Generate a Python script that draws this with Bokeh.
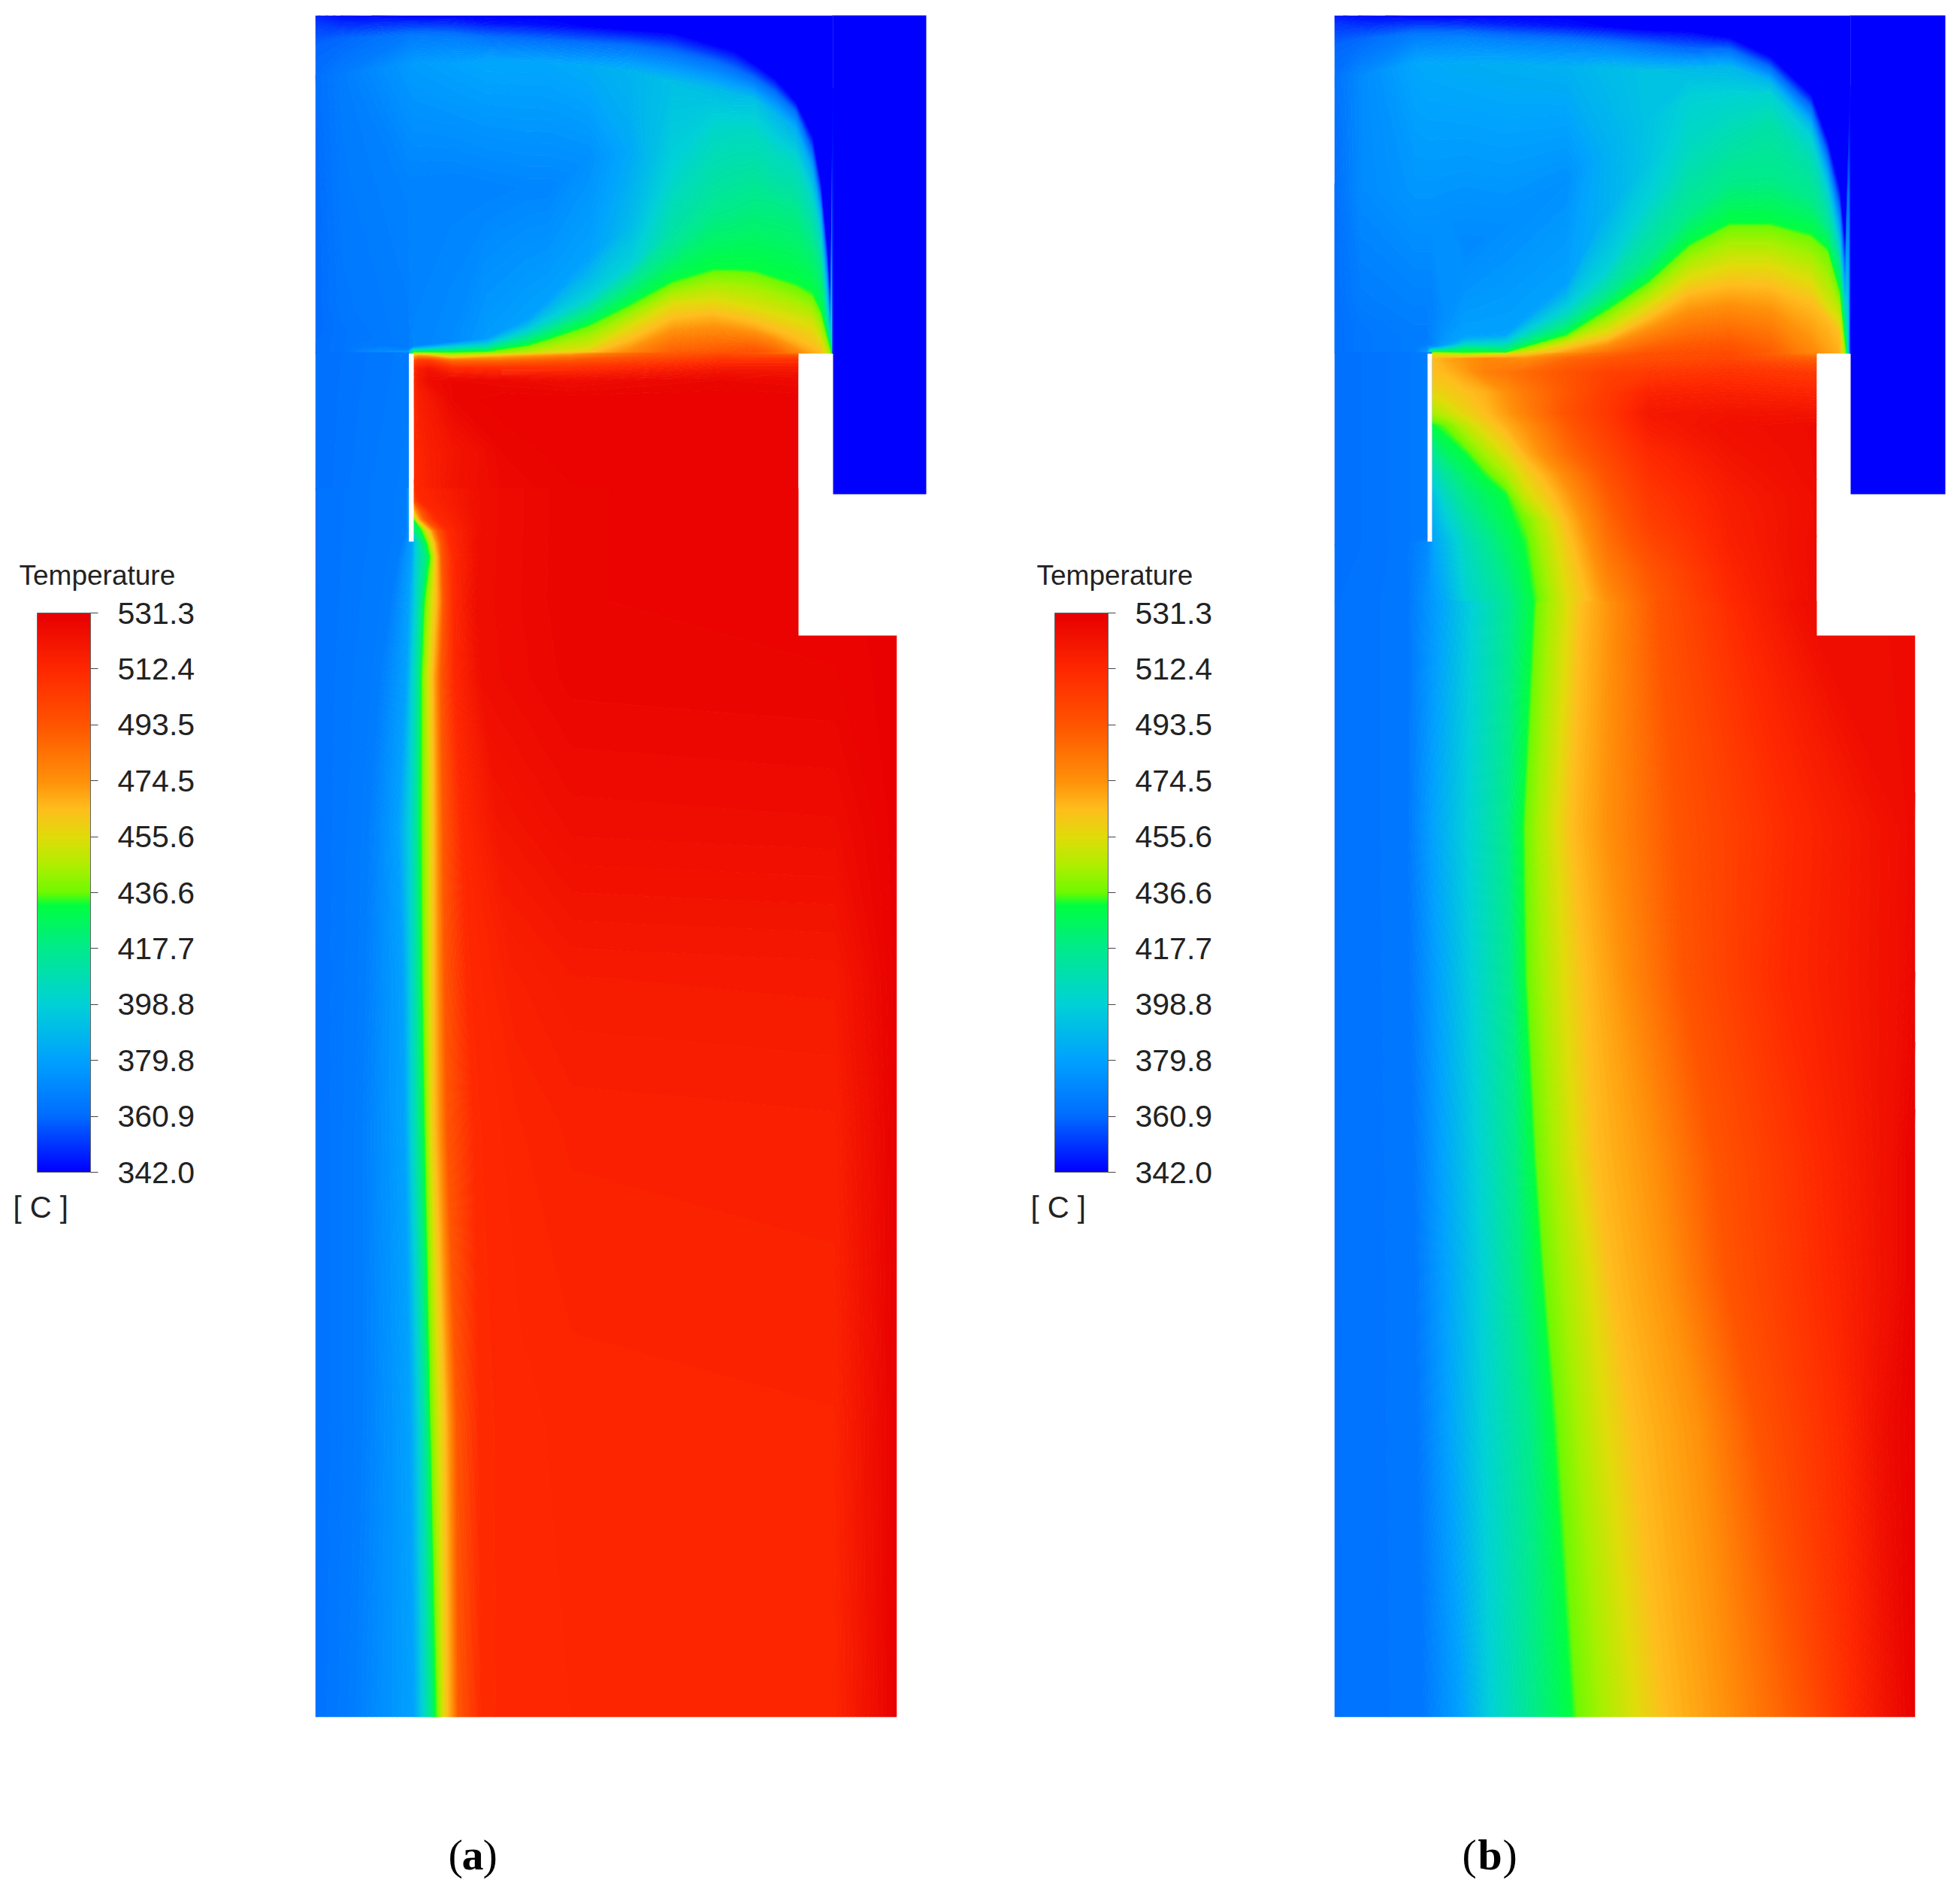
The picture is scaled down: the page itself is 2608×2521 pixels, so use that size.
from bokeh.core.properties import value
from bokeh.embed import file_html
from bokeh.models import ColorBar, FixedTicker, LinearColorMapper, PrintfTickFormatter, Range1d
from bokeh.plotting import figure
from bokeh.resources import INLINE
import numpy as np

# colour scale
tick_values = [342.0, 360.9, 379.8, 398.8, 417.7, 436.6, 455.6, 474.5, 493.5, 512.4, 531.3]
scale_t = [342, 360.9, 379.8, 398.8, 417.7, 432.3, 436.6, 445, 455.6, 465, 474.5, 493.5, 512.4, 531.3]
scale_r = [0, 0, 0, 0, 0, 0, 110, 170, 225, 255, 255, 255, 255, 232]
scale_g = [0, 108, 162, 210, 235, 255, 250, 240, 220, 190, 145, 85, 40, 0]
scale_b = [255, 255, 255, 215, 140, 64, 0, 0, 10, 30, 10, 0, 0, 0]

# upper chamber, one column per x, temperature (C) at the y of each node
a_top_x = [419, 455, 543, 550, 600, 647, 700, 729, 784, 839, 894, 949, 976, 1003, 1031, 1058, 1080, 1091, 1099, 1105, 1108]
a_top_y = [
    [20, 30, 60, 100, 250, 400, 440, 455, 462, 466, 468, 469, 470],
    [20, 32, 50, 100, 250, 400, 440, 455, 462, 466, 468, 469, 470],
    [20, 30, 48, 85, 250, 460, 463, 465, 467, 468, 469, 469.5, 470],
    [20, 30, 48, 85, 250, 460, 463, 465, 467, 468, 469, 469.5, 470],
    [20, 30, 50, 85, 240, 455, 461, 465, 467, 468, 469, 469.5, 470],
    [20, 30, 52, 82, 250, 450, 458, 463, 467, 468.5, 469, 469.5, 470],
    [20, 32, 55, 82, 250, 425, 440, 450, 459, 461, 465, 468, 470],
    [20, 33, 57, 83, 250, 400, 425, 439, 450, 453, 465, 468, 470],
    [20, 36, 60, 88, 210, 340, 395, 414, 431, 435, 463, 468, 470],
    [20, 40, 63, 95, 200, 300, 351, 378, 403, 408, 433, 455, 470],
    [20, 44, 72, 110, 220, 280, 310, 335, 373, 378, 403, 428, 470],
    [20, 60, 85, 118, 170, 230, 260, 285, 357, 362, 398, 422, 470],
    [20, 68, 95, 125, 170, 225, 255, 275, 357, 362, 403, 427, 470],
    [20, 85, 107, 132, 175, 225, 250, 263, 359, 364, 409, 433, 470],
    [20, 105, 125, 150, 200, 240, 258, 268, 368, 373, 417, 443, 470],
    [20, 135, 150, 170, 215, 250, 268, 278, 376, 382, 425, 455, 470],
    [20, 180, 205, 225, 265, 295, 310, 320, 387, 395, 432, 460, 470],
    [20, 240, 265, 285, 310, 330, 340, 350, 411, 416, 445, 462, 470],
    [20, 320, 350, 375, 400, 415, 425, 432, 444, 448, 458, 465, 470],
    [20, 400, 440, 455, 460, 462, 464, 465, 466, 467, 468, 469, 470],
    [20, 60, 100, 140, 180, 220, 260, 300, 340, 380, 420, 460, 470],
]
a_top_t = [
    [348, 352, 360, 362, 361, 361, 361, 362, 362, 362, 362, 362, 362],
    [344, 350, 360, 367, 366, 365, 364, 364, 364, 364, 364, 364, 364],
    [342, 350, 366, 377, 369, 367, 367, 370, 375, 380, 385, 390, 395],
    [342, 350, 367, 378, 369, 370, 385, 405, 425, 432, 437, 440, 445],
    [342, 349, 368, 380, 369, 372, 398, 415, 428, 432, 435, 436, 437],
    [342, 345, 365, 382, 369, 378, 399, 418, 432.5, 437, 439, 441, 442],
    [342, 345, 365, 382, 370, 380, 399, 418, 432.5, 437, 443, 447, 452],
    [342, 344, 365, 382, 370, 380, 399, 418, 432.5, 437, 450, 454, 458],
    [342, 343, 365, 384, 374, 380, 399, 418, 432.5, 437, 455, 463, 466],
    [342, 342.5, 365, 387, 383, 390, 399, 418, 432.5, 437, 455, 468, 480],
    [342, 342.5, 365, 392, 399, 408, 412, 418, 432.5, 437, 455, 468, 492],
    [342, 342.5, 365, 390, 402, 410, 414, 418, 432.5, 437, 455, 468, 494],
    [342, 342.5, 365, 390, 403, 411, 415, 418, 432.5, 437, 455, 468, 496],
    [342, 342.5, 365, 392, 404, 412, 416, 418, 432.5, 437, 455, 468, 498],
    [342, 342.5, 365, 388, 404, 411, 415, 418, 432.5, 437, 455, 468, 492],
    [342, 342.5, 365, 385, 404, 411, 415, 418, 432.5, 437, 455, 468, 480],
    [342, 342.5, 365, 385, 404, 411, 415, 418, 432.5, 437, 455, 465, 470],
    [342, 342.5, 365, 385, 400, 409, 413, 418, 432.5, 437, 452, 462, 466],
    [342, 342.5, 365, 385, 400, 409, 413, 418, 432.5, 437, 445, 450, 453],
    [342, 342.5, 365, 385, 395, 403, 410, 418, 430, 433, 435, 437, 438],
    [342, 342, 342, 342, 342, 342, 342, 342, 342, 342, 342, 342, 346],
]
b_top_x = [1775, 1811, 1883, 1899, 1905, 1949, 2003, 2084, 2139, 2193, 2247, 2301, 2355, 2409, 2431, 2447, 2455, 2462]
b_top_y = [
    [20, 30, 60, 100, 250, 400, 440, 455, 462, 466, 468, 469, 470],
    [20, 32, 50, 100, 250, 400, 440, 455, 462, 466, 468, 469, 470],
    [20, 30, 48, 85, 250, 400, 445, 458, 463, 466, 468, 469, 470],
    [20, 30, 48, 85, 250, 400, 445, 458, 463, 466, 468, 469, 470],
    [20, 30, 48, 85, 250, 400, 460, 463, 465, 467, 468, 469, 470],
    [20, 30, 50, 85, 330, 447, 457, 462, 466, 468, 469, 469.5, 470],
    [20, 32, 55, 85, 300, 444, 455, 463, 469, 469.3, 469.6, 469.8, 470],
    [20, 34, 58, 90, 240, 378, 411, 431, 444, 447, 456, 463, 470],
    [20, 36, 60, 90, 200, 280, 357, 392, 409, 414, 439, 450, 470],
    [20, 40, 60, 95, 160, 215, 263, 346, 373, 378, 406, 422, 470],
    [20, 42, 66, 92, 130, 200, 245, 285, 324, 329, 368, 389, 470],
    [20, 50, 68, 88, 128, 190, 220, 241, 296, 301, 351, 378, 470],
    [20, 75, 92, 108, 125, 160, 195, 236, 296, 301, 351, 380, 470],
    [20, 125, 145, 165, 181, 210, 240, 263, 310, 316, 373, 403, 470],
    [20, 185, 210, 235, 252, 275, 290, 302, 329, 335, 410, 422, 470],
    [20, 250, 280, 310, 329, 340, 345, 351, 384, 392, 425, 445, 470],
    [20, 330, 370, 400, 420, 430, 435, 440, 466, 467, 468, 469, 470],
    [20, 60, 100, 140, 180, 220, 260, 300, 340, 380, 420, 460, 470],
]
b_top_t = [
    [346, 351, 360, 363, 362, 362, 362, 362, 362, 362, 362, 362, 362],
    [344, 350, 360, 372, 372, 367, 365, 365, 365, 365, 365, 365, 365],
    [342, 350, 368, 382, 376, 369, 367, 367, 367, 367, 367, 367, 367],
    [342, 350, 368, 383, 376, 369, 367, 368, 372, 376, 380, 384, 388],
    [342, 350, 368, 383, 376, 369, 370, 385, 405, 425, 432, 440, 450],
    [342, 349, 370, 384, 371, 380, 399, 418, 430, 432.5, 434, 436, 437],
    [342, 348, 370, 385, 373, 380, 399, 418, 432.5, 437, 440, 445, 450],
    [342, 345, 370, 386, 374, 380, 399, 418, 432.5, 437, 455, 465, 474],
    [342, 343, 368, 390, 386, 386, 399, 418, 432.5, 437, 455, 465, 487],
    [342, 342.5, 362, 393, 393, 394, 399, 418, 432.5, 437, 455, 465, 495],
    [342, 342.5, 362, 390, 399, 405, 412, 418, 432.5, 437, 455, 465, 497],
    [342, 342.5, 365, 388, 400, 410, 415, 418, 432.5, 437, 455, 465, 498],
    [342, 342.5, 365, 388, 400, 410, 414, 418, 432.5, 437, 455, 465, 492],
    [342, 342.5, 365, 388, 399, 408, 414, 418, 432.5, 437, 455, 465, 478],
    [342, 342.5, 365, 388, 399, 408, 414, 418, 432.5, 437, 455, 465, 472],
    [342, 342.5, 365, 388, 399, 408, 414, 418, 432.5, 437, 455, 465, 468],
    [342, 342.5, 365, 388, 399, 408, 414, 418, 432.5, 434, 436, 438, 440],
    [342, 342, 342, 342, 342, 342, 342, 342, 342, 342, 342, 342, 346],
]

# just under the free surface, on plain x / y lines
a_cap_x = [550, 556, 570, 600, 667, 760, 860, 960, 1062]
a_cap_y = [469, 474, 480, 490, 505, 530, 600, 650]
a_cap_t = [
    [445, 445, 442, 437, 445, 465, 489, 495, 478],
    [470, 478, 475, 455, 470, 482, 495, 503, 498],
    [495, 505, 505, 488, 488, 495, 503, 510, 510],
    [510, 518, 522, 512, 510, 510, 515, 520, 520],
    [512, 520, 526, 528, 527, 525, 527, 528, 527],
    [512, 517, 520, 528, 530, 530, 530, 530, 530],
    [512, 514, 517, 521, 528, 530, 530, 530, 530],
    [511, 513, 516, 522, 527, 529, 530, 530, 530],
]
b_cap_x = [1905, 1923, 1949, 1976, 2003, 2030, 2084, 2139, 2193, 2301, 2417]
b_cap_y = [469, 477, 494, 521, 549, 565, 603, 630, 658, 690, 720, 760, 800]
b_cap_t = [
    [450, 445, 437, 442, 450, 460, 474, 487, 495, 498, 476],
    [465, 470, 474, 478, 477, 476, 488, 494, 497, 500, 490],
    [465, 466, 472, 480, 483, 487, 494, 502, 505, 508, 505],
    [458, 460, 464, 468, 475, 482, 493, 505, 515, 516, 514],
    [445, 450, 458, 465, 472, 480, 495, 506, 520, 522, 522],
    [432, 437, 449, 460, 468, 475, 492, 505, 518, 524, 526],
    [415, 425, 432.5, 445, 456, 468, 486, 500, 512, 522, 526],
    [403, 414, 425, 434, 445, 459, 478, 496, 509, 520, 526],
    [392, 405, 418, 426, 432.5, 452, 472, 492, 506, 518, 525],
    [385, 397, 411, 421, 429, 438, 466, 488, 503, 517, 525],
    [380, 390, 405, 415, 425, 434, 462, 485, 499, 516, 526],
    [378, 387, 402, 411, 420, 431, 458, 480, 493, 514, 526],
    [377, 384, 399, 408, 415, 428, 455, 475, 490, 512, 526],
]

# left of the wall
a_side_x = [419, 480, 544]
a_side_y = [468, 652]
a_side_t = [[362, 364, 366], [362, 365, 367]]
b_side_x = [1775, 1872, 1899, 1906]
b_side_y = [468, 715, 722, 801]
b_side_t = [[362, 365, 367, 367], [362, 365, 367, 367], [362, 365, 372, 378], [363, 365, 375, 377]]

# main body, one row per y, x where each temperature level is reached
a_body_t = [363, 367, 380, 399, 418, 432.5, 437, 455.6, 465, 474.5, 493.5, 512]
a_body_y = [649, 665, 677, 690, 705, 722, 740, 800, 900, 1100, 1300, 1500, 1890, 2284]
a_body_x = [
    [419, 540, 544, 545, 545.5, 546, 546.5, 547, 547.5, 548, 549, 552],
    [419, 540, 544, 545, 545.5, 546, 546.5, 547, 547.5, 548, 549, 557],
    [419, 540, 544, 545, 545.5, 546, 546.5, 547, 550, 552, 558, 570],
    [419, 540, 544, 545, 545.5, 550.5, 551, 553, 556, 559, 565, 580],
    [419, 540, 545, 549, 550, 560, 562, 568, 572, 575, 582, 595],
    [419, 535, 548, 553, 561, 567, 569, 574, 578, 581, 587, 598],
    [419, 530, 547, 553, 565, 571, 573, 578, 580, 584, 588, 602],
    [419, 520, 543, 552, 560, 564, 566, 575, 580, 585, 590, 603],
    [419, 505, 540, 548, 557, 560, 562, 570, 575, 580, 587, 603],
    [419, 490, 530, 545, 555, 559, 562, 572, 577, 582, 590, 613],
    [419, 485, 536, 546, 556, 561, 563, 572, 577, 583, 592, 620],
    [419, 480, 538, 547, 557, 564, 566, 573, 578, 585, 595, 630],
    [419, 480, 545, 557, 567, 572, 573, 585, 592, 598, 608, 637],
    [419, 470, 550, 562, 573, 579, 582, 590, 595, 602, 610, 640],
]
# the plateau right of the front and its rim at the outer wall
a_near_x = [640, 640, 640, 640, 640, 635, 637, 633, 640, 660, 680, 690, 690, 690]
a_near_t = [525, 525, 525, 525, 525, 525, 525, 525, 525, 521, 516.5, 514.5, 513, 513]
a_mid_x = [760] * 14
a_mid_t = [529, 529, 529, 529, 529, 529, 529, 529, 528.5, 525, 519, 516, 514, 513.5]
a_rim_x = [1110] * 14
a_rim_t = [529.5, 529.5, 529.5, 529.5, 529.5, 529.5, 529.5, 529.5, 529, 525.5, 519.5, 516.5, 514.5, 514]
a_edge_x = [1193] * 14
a_edge_t = [531] * 14

b_body_t = [363, 365, 380, 399, 418, 432.5, 437, 455.6, 465, 474.5, 493.5, 512, 525]
b_body_y = [799, 1100, 1300, 1540, 1700, 1900, 2284]
b_body_x = [
    [1775, 1872, 1915, 1959, 2010, 2040, 2045, 2086, 2104, 2142, 2204, 2306, 2397, 2548],
    [1775, 1872, 1905, 1954, 2005, 2025, 2030, 2071, 2091, 2137, 2229, 2382, 2530, 2548],
    [1775, 1875, 1913, 1959, 2010, 2028, 2033, 2081, 2109, 2158, 2239, 2372, 2530, 2548],
    [1775, 1880, 1918, 1966, 2015, 2040, 2045, 2096, 2122, 2198, 2280, 2418, 2520, 2548],
    [1775, 1882, 1923, 1972, 2020, 2051, 2056, 2117, 2142, 2219, 2296, 2428, 2520, 2548],
    [1775, 1885, 1926, 1974, 2035, 2066, 2074, 2137, 2173, 2260, 2336, 2449, 2505, 2548],
    [1775, 1892, 1943, 1984, 2040, 2091, 2099, 2178, 2214, 2296, 2397, 2464, 2520, 2548],
]
b_body_edge = [526, 527, 528, 531, 531, 531, 531]

panel_names = ["a", "b"]


def ramp(temps):
    r = np.interp(temps, scale_t, scale_r)
    g = np.interp(temps, scale_t, scale_g)
    b = np.interp(temps, scale_t, scale_b)
    return ["#%02x%02x%02x" % (int(i), int(j), int(k)) for i, j, k in zip(r, g, b)]


levels = np.linspace(342, 531.3, 171)
levels[0] = 341
mids = (levels[:-1] + levels[1:]) / 2
fills = ramp(mids)
fills[0] = "#0000ff"
lines = ramp(levels)

p = figure(width=2608, height=2521, x_range=Range1d(0, 2608), y_range=Range1d(2521, 0),
           x_axis_type=None, y_axis_type=None, output_backend="svg", toolbar_location=None,
           min_border=0, outline_line_color=None)
p.grid.visible = False


def field(x, y, t):
    x = np.array(x, dtype=float)
    y = np.array(y, dtype=float)
    t = np.array(t, dtype=float)
    if x.ndim == 1 and y.ndim == 1:
        x, y = np.meshgrid(x, y)
    p.contour(x, y, t, levels, fill_color=fills, line_color=lines, line_width=1.2)


# upper chamber: x is the same along one column
a_top_xx = np.tile(np.array(a_top_x)[:, None], (1, 13))
b_top_xx = np.tile(np.array(b_top_x)[:, None], (1, 13))
field(a_top_xx, a_top_y, a_top_t)
field(b_top_xx, b_top_y, b_top_t)
field(a_side_x, a_side_y, a_side_t)
field(b_side_x, b_side_y, b_side_t)
field(a_cap_x, a_cap_y, a_cap_t)
field(b_cap_x, b_cap_y, b_cap_t)

# main body: y is the same along one row
a_bx = np.column_stack([a_body_x, a_near_x, a_mid_x, a_rim_x, a_edge_x])
a_by = np.tile(np.array(a_body_y)[:, None], (1, a_bx.shape[1]))
a_bt = np.column_stack([np.tile(np.array(a_body_t), (a_bx.shape[0], 1)), a_near_t, a_mid_t, a_rim_t, a_edge_t])
field(a_bx, a_by, a_bt)
b_bx = np.array(b_body_x)
b_by = np.tile(np.array(b_body_y)[:, None], (1, b_bx.shape[1]))
b_bt = np.column_stack([np.tile(np.array(b_body_t), (b_bx.shape[0], 1)), b_body_edge])
field(b_bx, b_by, b_bt)

# solid cold block and the white gaps of the geometry
for left, wall_l, wall_r, notch_l, block_l, block_r, step_r, offset in [
    (419, 543.5, 550, 1062, 1108, 1232, 1193, 0),
    (1775, 1899, 1905, 2417, 2462, 2588, 2548, 1354),
]:
    # white trim takes off the ends of the contour strokes at the outer edges
    p.quad(left=[notch_l], right=[step_r + 58], top=[470], bottom=[845], fill_color="white", line_color=None)
    p.quad(left=[step_r], right=[step_r + 8], top=[845], bottom=[2290], fill_color="white", line_color=None)
    p.quad(left=[left - 8], right=[left], top=[10], bottom=[2290], fill_color="white", line_color=None)
    p.quad(left=[left - 8], right=[step_r + 8], top=[2284], bottom=[2292], fill_color="white", line_color=None)
    p.quad(left=[left - 8], right=[block_r + 8], top=[12], bottom=[20], fill_color="white", line_color=None)
    p.quad(left=[block_l - 1], right=[block_l], top=[20], bottom=[470], fill_color="#0000ff", line_color=None)
    p.quad(left=[block_l], right=[block_r], top=[20], bottom=[657], fill_color="#0000ff", line_color=None)
    p.quad(left=[wall_l], right=[wall_r], top=[470], bottom=[720], fill_color="white", line_color=None)

    bar = ColorBar(color_mapper=LinearColorMapper(palette=ramp(np.linspace(342, 531.3, 512)), low=342, high=531.3),
                   ticker=FixedTicker(ticks=tick_values), formatter=PrintfTickFormatter(format="%.1f"),
                   location=(49 + offset, 962), width=71, height=744, padding=0, margin=0,
                   major_tick_in=0, major_tick_out=10, major_tick_line_color="#444444", minor_tick_line_color=None,
                   label_standoff=26, major_label_text_font="Liberation Sans", major_label_text_font_size="41px",
                   major_label_text_color="#222222", bar_line_color="#666666", bar_line_width=1,
                   background_fill_color=None, border_line_color=None)
    p.add_layout(bar, "center")
    p.text(x=[25 + offset], y=[765], text=["Temperature"], text_font=value("Liberation Sans"),
           text_font_size=value("37px"), text_color="#222222", text_baseline="middle")
    p.text(x=[17 + offset], y=[1605], text=["[ C ]"], text_font=value("Liberation Sans"),
           text_font_size=value("40px"), text_color="#222222", text_baseline="middle")

# panel letters
for name, x0, x1, x2 in zip(panel_names, [596, 1945], [614, 1966], [642, 1999]):
    p.text(x=[x0], y=[2467], text=["("], text_font=value("Liberation Serif"), text_font_size=value("58px"),
           text_color="black", text_baseline="middle")
    p.text(x=[x1], y=[2467], text=[name], text_font=value("Liberation Serif"), text_font_size=value("58px"),
           text_font_style="bold", text_color="black", text_baseline="middle")
    p.text(x=[x2], y=[2467], text=[")"], text_font=value("Liberation Serif"), text_font_size=value("58px"),
           text_color="black", text_baseline="middle")

open("out.html", "w").write(file_html(p, INLINE))
